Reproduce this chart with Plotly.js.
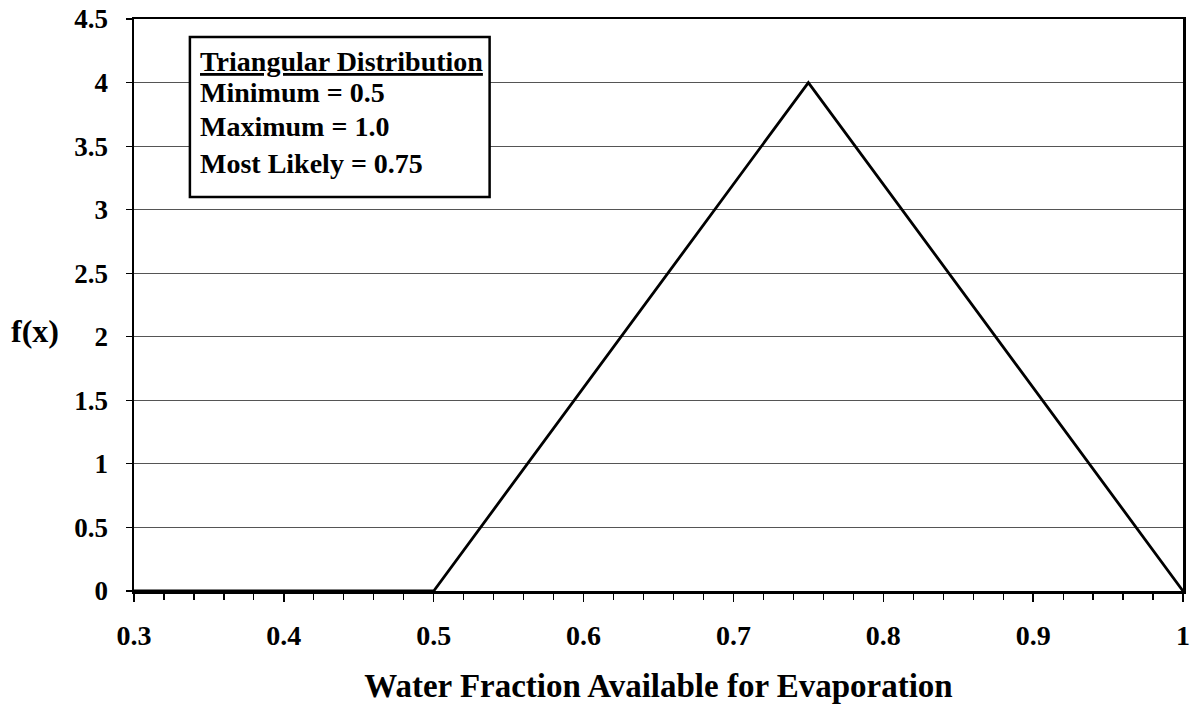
<!DOCTYPE html>
<html><head><meta charset="utf-8">
<script src="https://cdn.plot.ly/plotly-3.0.1.min.js"></script>
<style>body{margin:0;background:#fff}#c{width:1193px;height:719px}</style>
</head><body><div id="c"></div>
<script>
const xValues = [0.3, 0.5, 0.75, 1.0];
const fValues = [0, 0, 4, 0];
const xTickVals = [0.3, 0.4, 0.5, 0.6, 0.7, 0.8, 0.9, 1.0];
const xTickText = ["0.3", "0.4", "0.5", "0.6", "0.7", "0.8", "0.9", "1"];
const yTickVals = [0, 0.5, 1, 1.5, 2, 2.5, 3, 3.5, 4, 4.5];
const yTickText = ["0", "0.5", "1", "1.5", "2", "2.5", "3", "3.5", "4", "4.5"];
const boxLines = ["<u>Triangular Distribution</u>", "Minimum = 0.5", "Maximum = 1.0", "Most Likely = 0.75"];
const boxLineY = [4.165, 3.92, 3.652, 3.362];

const F = "Liberation Serif, Times New Roman, serif";
const annotations = boxLines.map((t, i) => ({
  xref: 'x', yref: 'y', x: 0.3425, y: boxLineY[i], xanchor: 'left', yanchor: 'middle',
  text: '<b>' + t + '</b>', showarrow: false, font: {family: F, size: 28, color: '#000'}
}));
annotations.push({xref:'paper', yref:'paper', x:-0.094, y:0.455, xanchor:'center', yanchor:'middle',
  text:'<b>f(x)</b>', showarrow:false, font:{family:F, size:32, color:'#000'}});

const layout = {
  width: 1193, height: 719,
  margin: {l: 134, r: 10, t: 19, b: 128},
  paper_bgcolor: '#fff', plot_bgcolor: '#fff',
  showlegend: false,
  xaxis: {
    range: [0.3, 1.0], tickmode: 'array', tickvals: xTickVals, ticktext: xTickText,
    ticks: 'outside', ticklen: 8, tickwidth: 1.5, tickcolor: '#000',
    minor: {tickmode: 'linear', tick0: 0.3, dtick: 0.02, ticks: 'outside', ticklen: 6, tickwidth: 1.2, tickcolor: '#000', showgrid: false},
    showgrid: false, zeroline: false,
    showline: true, linecolor: '#000', linewidth: 2.5, mirror: true,
    tickfont: {family: F, size: 28, color: '#000', weight: 'bold'},
    ticklabelstandoff: 10,
    title: {text: '<b>Water Fraction Available for Evaporation</b>', font: {family: F, size: 33, color: '#000'}, standoff: 24}
  },
  yaxis: {
    range: [0, 4.5], tickmode: 'array', tickvals: yTickVals, ticktext: yTickText,
    ticks: 'outside', ticklen: 6, tickwidth: 1.2, tickcolor: '#000',
    showgrid: true, gridcolor: '#555', gridwidth: 1, zeroline: false,
    showline: true, linecolor: '#000', linewidth: 2.5, mirror: true,
    tickfont: {family: F, size: 27, color: '#000', weight: 'bold'},
    ticklabelstandoff: 12
  },
  shapes: [{type: 'rect', xref: 'x', yref: 'y', x0: 0.3373, x1: 0.5373, y0: 3.1, y1: 4.358,
    line: {color: '#000', width: 2.5}, fillcolor: '#fff', layer: 'above'}],
  annotations: annotations
};

Plotly.newPlot('c', [{
  x: xValues, y: fValues, type: 'scatter', mode: 'lines', cliponaxis: false,
  line: {color: '#000', width: 2.8}, hoverinfo: 'skip'
}], layout, {staticPlot: true});
</script></body></html>
